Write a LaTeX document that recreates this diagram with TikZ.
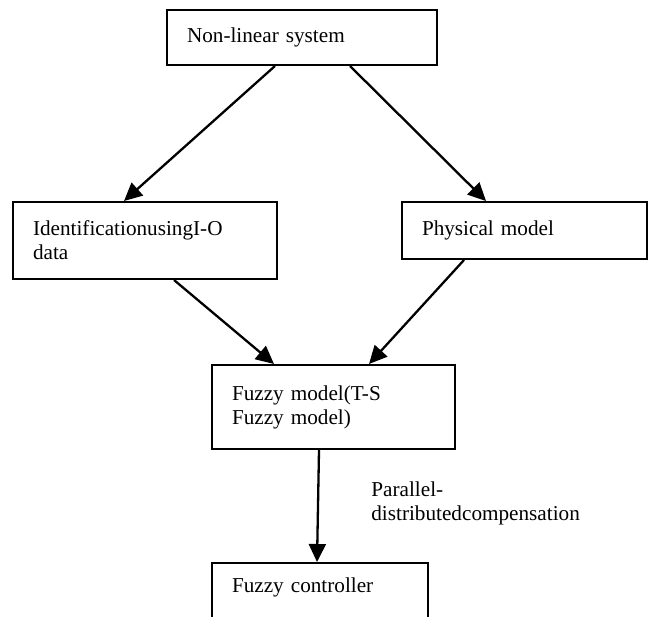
\documentclass[tikz,border=0pt]{standalone}
\usepackage{fontspec}
\setmainfont{Liberation Serif}
\usetikzlibrary{arrows.meta}
\begin{document}
\begin{tikzpicture}[x=1pt,y=-1pt,
  every node/.style={font=\fontsize{21.2}{24}\selectfont},
  box/.style={draw=black,line width=2pt,rectangle,inner xsep=20pt,inner ysep=0pt,align=left},
  conn/.style={line width=2.3pt,-{Triangle[length=18pt,width=17pt]}}]
\clip (0,0) rectangle (652,617);
\fill[white] (0,0) rectangle (652,617);
\node[box,text width=230pt,minimum height=55pt] (sys) at (302,37.5) {Non-linear system};
\node[box,text width=224pt,minimum height=77pt] (ident) at (145,240.5) {IdentificationusingI-O\\data};
\node[box,text width=205pt,minimum height=57pt] (phys) at (524.5,230.5) {Physical model};
\node[box,text width=203pt,minimum height=84pt] (fuzzy) at (333.5,407) {Fuzzy model(T-S\\Fuzzy model)};
\node[box,text width=176pt,anchor=north west,inner ysep=15pt,text depth=45pt] (ctrl) at (211,562) {Fuzzy controller};
\draw[conn] ([xshift=109pt]sys.south west) -- ([xshift=112pt]ident.north west);
\draw[conn] ([xshift=184pt]sys.south west) -- ([xshift=85pt]phys.north west);
\draw[conn] ([xshift=162pt]ident.south west) -- ([xshift=63pt]fuzzy.north west);
\draw[conn] ([xshift=63pt]phys.south west) -- ([xshift=158pt]fuzzy.north west);
\draw[conn] ([xshift=108pt]fuzzy.south west) -- ([xshift=106pt]ctrl.north west) node[pos=0.38,anchor=north west,inner sep=0pt,align=left,xshift=52pt,yshift=11.5pt] (pdc) {Parallel-\\distributedcompensation};
\end{tikzpicture}
\end{document}
